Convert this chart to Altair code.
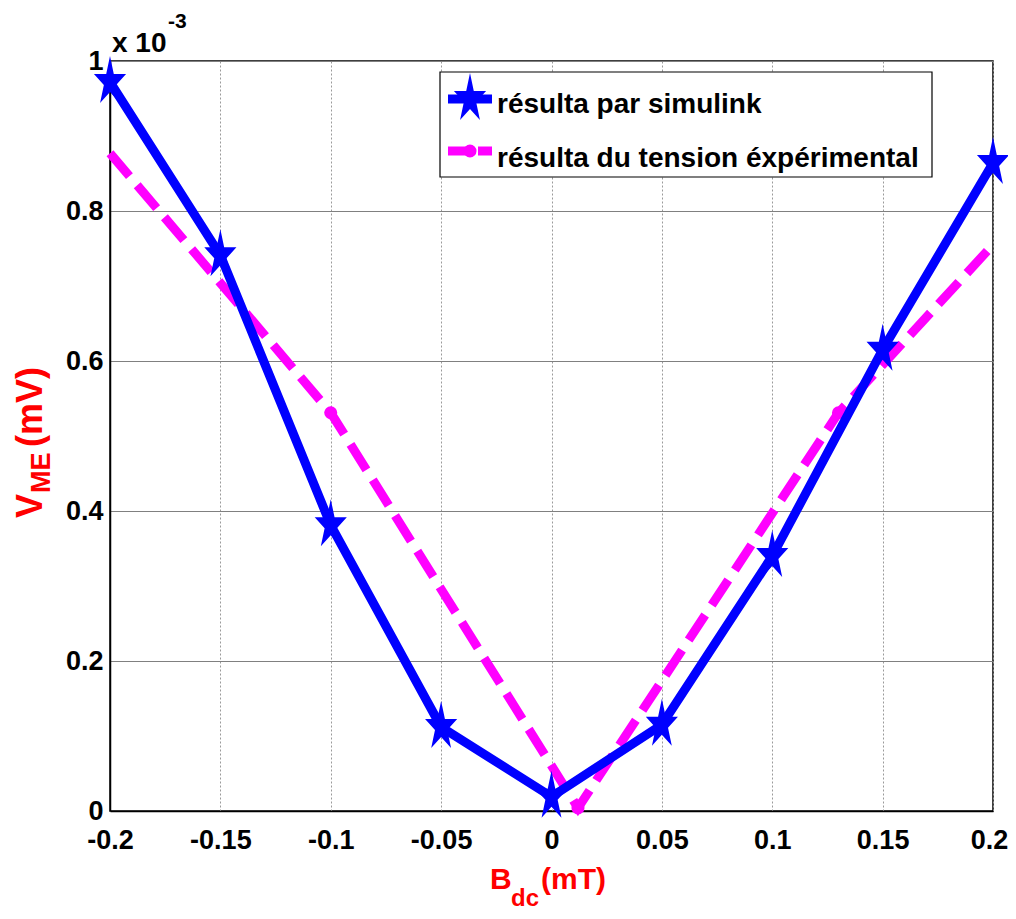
import altair as alt
import pandas as pd

# Data
sim_x = [-0.2, -0.15, -0.1, -0.05, 0.0, 0.05, 0.1, 0.15, 0.2]
sim_y = [0.972, 0.741, 0.381, 0.112, 0.019, 0.115, 0.340, 0.615, 0.864]
exp_x = [-0.2, -0.1, 0.012, 0.13, 0.2]
exp_y = [0.877, 0.531, 0.004, 0.531, 0.755]
x_ticks = [-0.2, -0.15, -0.1, -0.05, 0, 0.05, 0.1, 0.15, 0.2]
y_ticks = [0, 0.2, 0.4, 0.6, 0.8, 1]
labels = ["résulta par simulink", "résulta du tension éxpérimental"]

FONT = "Liberation Sans, Arial, Helvetica"
BLUE = "#0000FF"
MAG = "#FF00FF"
STAR = ("M0,-1L0.146,-0.309L0.618,-0.309L0.236,0.118L0.382,0.809L0,0.382"
        "L-0.382,0.809L-0.236,0.118L-0.618,-0.309L-0.146,-0.309Z")

sim = pd.DataFrame({"x": sim_x, "y": sim_y})
exp = pd.DataFrame({"x": exp_x, "y": exp_y})
one = pd.DataFrame({"a": [0]})

xs = alt.Scale(domain=[-0.2, 0.2], nice=False, zero=False)
ys = alt.Scale(domain=[0, 1], nice=False)

xax = alt.Axis(values=x_ticks, labelExpr="toString(datum.value)", title=None,
               grid=True, gridColor="#9a9a9a", gridDash=[2, 2], gridWidth=1,
               ticks=False, domainColor="black", domainWidth=1.5,
               labelFont=FONT, labelFontSize=27, labelFontWeight="bold",
               labelColor="black", labelPadding=16, labelFlush=False,
               labelOffset={"condition": {"test": "datum.value >= 0.2", "value": -4},
                            "value": 0})
yax = alt.Axis(values=y_ticks, labelExpr="toString(datum.value)", title=None,
               grid=True, gridColor="#808080", gridWidth=1,
               ticks=False, domainColor="black", domainWidth=1.5,
               labelFont=FONT, labelFontSize=27, labelFontWeight="bold",
               labelColor="black", labelPadding=7, labelFlush=False)

base_sim = alt.Chart(sim).encode(x=alt.X("x:Q", scale=xs, axis=xax),
                                 y=alt.Y("y:Q", scale=ys, axis=yax))
sim_line = base_sim.mark_line(color=BLUE, strokeWidth=9)
sim_pts = base_sim.mark_point(shape=STAR, size=2704, filled=True, color=BLUE, opacity=1)

base_exp = alt.Chart(exp).encode(x=alt.X("x:Q", scale=xs), y=alt.Y("y:Q", scale=ys))
exp_line = base_exp.mark_line(color=MAG, strokeWidth=9, strokeDash=[30, 12])
exp_pts = base_exp.transform_filter(
    "datum.x > -0.2 && datum.x < 0.2").mark_circle(size=170, color=MAG, opacity=1)

# Legend (drawn as a MATLAB-style box)
leg_box = alt.Chart(one).mark_rect(fill="white", stroke="black", strokeWidth=1.2).encode(
    x=alt.value(330), x2=alt.value(822), y=alt.value(11), y2=alt.value(116))
leg_l1 = alt.Chart(one).mark_rule(color=BLUE, strokeWidth=9).encode(
    x=alt.value(338), x2=alt.value(382), y=alt.value(38))
leg_s1 = alt.Chart(one).mark_point(shape=STAR, size=2704, filled=True, color=BLUE, opacity=1).encode(
    x=alt.value(360), y=alt.value(38))
leg_l2 = alt.Chart(one).mark_rule(color=MAG, strokeWidth=9, strokeDash=[24, 6]).encode(
    x=alt.value(338), x2=alt.value(382), y=alt.value(90))
leg_s2 = alt.Chart(one).mark_circle(size=170, color=MAG, opacity=1).encode(
    x=alt.value(360), y=alt.value(90))

def txt(s, x, y, size, color="black", angle=0):
    kw = dict(text=s, font=FONT, fontSize=size, fontWeight="bold", align="left",
              baseline="alphabetic", color=color)
    if angle:
        kw["angle"] = angle
    return alt.Chart(one).mark_text(**kw).encode(x=alt.value(x), y=alt.value(y))

leg_t1 = txt(labels[0], 387, 52, 28)
leg_t2 = txt(labels[1], 387, 106, 28)
# exponent
e1 = txt("x 10", 2, -9, 28)
e2 = txt("-3", 58, -33, 21)
# x label B_dc(mT)
xl1 = txt("B", 380, 828, 30, "red")
xl2 = txt("dc", 401, 845, 24, "red")
xl3 = txt("(mT)", 431, 828, 30, "red")
# y label V_ME(mV)
yl1 = txt("V", -68, 457, 36, "red", 270)
yl2 = txt("ME", -60, 432, 27, "red", 270)
yl3 = txt("(mV)", -68, 386, 36, "red", 270)

chart = alt.layer(
    exp_line, exp_pts, sim_line, sim_pts,
    leg_box, leg_l1, leg_s1, leg_l2, leg_s2, leg_t1, leg_t2,
    e1, e2, xl1, xl2, xl3, yl1, yl2, yl3,
).properties(
    width=883, height=750,
    autosize=alt.AutoSizeParams(type="none"),
    padding={"left": 102, "top": 53, "right": 15, "bottom": 100},
    background="white",
).configure_view(stroke="black", strokeWidth=1.5)

chart.save("out.html", embed_options={"renderer": "svg", "actions": False})
